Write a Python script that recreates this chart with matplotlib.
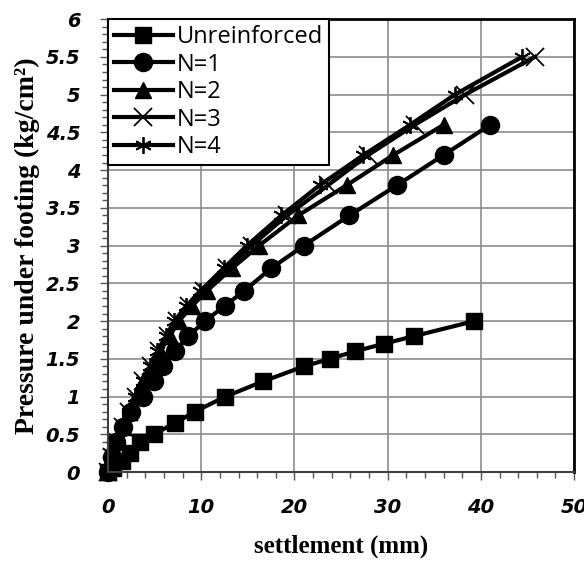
import matplotlib
matplotlib.use("Agg")
import matplotlib.pyplot as plt
from matplotlib.ticker import MultipleLocator

# settlement (mm) / pressure (kg/cm2)
x_unr = [0, 0.5, 1.5, 2.4, 3.4, 4.9, 7.2, 9.3, 12.6, 16.6, 21.0, 23.8, 26.5, 29.6, 32.8, 39.3]
y_unr = [0, 0.05, 0.15, 0.25, 0.4, 0.5, 0.65, 0.8, 1.0, 1.2, 1.4, 1.5, 1.6, 1.7, 1.8, 2.0]

x_n1 = [0, 0.4, 0.9, 1.6, 2.5, 3.8, 4.9, 5.9, 7.2, 8.6, 10.4, 12.5, 14.6, 17.5, 21.0, 25.9, 31.0, 36.0, 41.0]
y_n1 = [0, 0.2, 0.4, 0.6, 0.8, 1.0, 1.2, 1.4, 1.6, 1.8, 2.0, 2.2, 2.4, 2.7, 3.0, 3.4, 3.8, 4.2, 4.6]

x_n2 = [0, 0.4, 1.0, 1.6, 2.3, 3.0, 3.8, 4.7, 5.6, 6.6, 7.6, 9.0, 10.6, 13.3, 16.2, 20.4, 25.6, 30.6, 36.0]
y_n2 = [0, 0.2, 0.4, 0.6, 0.8, 1.0, 1.2, 1.4, 1.6, 1.8, 2.0, 2.2, 2.4, 2.7, 3.0, 3.4, 3.8, 4.2, 4.6]

x_n3 = [0, 0.4, 1.0, 1.6, 2.3, 3.0, 3.8, 4.6, 5.5, 6.4, 7.4, 8.7, 10.3, 12.8, 15.4, 19.2, 23.6, 27.9, 32.9, 38.3, 45.8]
y_n3 = [0, 0.2, 0.4, 0.6, 0.8, 1.0, 1.2, 1.4, 1.6, 1.8, 2.0, 2.2, 2.4, 2.7, 3.0, 3.4, 3.8, 4.2, 4.6, 5.0, 5.5]

x_n4 = [0, 0.4, 0.9, 1.5, 2.2, 2.9, 3.7, 4.5, 5.3, 6.2, 7.1, 8.4, 9.9, 12.4, 14.9, 18.6, 22.7, 27.4, 32.4, 37.2, 44.4]
y_n4 = [0, 0.2, 0.4, 0.6, 0.8, 1.0, 1.2, 1.4, 1.6, 1.8, 2.0, 2.2, 2.4, 2.7, 3.0, 3.4, 3.8, 4.2, 4.6, 5.0, 5.5]

x_ticks = [0, 10, 20, 30, 40, 50]
y_ticks = [0, 0.5, 1, 1.5, 2, 2.5, 3, 3.5, 4, 4.5, 5, 5.5, 6]
y_tick_labels = ['0', '0.5', '1', '1.5', '2', '2.5', '3', '3.5', '4', '4.5', '5', '5.5', '6']

fig = plt.figure(figsize=(5.84, 5.64), dpi=100)
ax = fig.add_axes([0.185, 0.163, 0.798, 0.803])

lw = 3.0
# excel draws the markers at the origin un-clipped
ax.plot(x_unr, y_unr, color='black', lw=lw, marker='s', ms=11, label='Unreinforced', clip_on=False)
ax.plot(x_n1, y_n1, color='black', lw=lw, marker='o', ms=13, label='N=1', clip_on=False)
ax.plot(x_n2, y_n2, color='black', lw=lw, marker='^', ms=12, label='N=2', clip_on=False)
ax.plot(x_n3, y_n3, color='black', lw=lw, marker='x', ms=13, mew=1.3, label='N=3', clip_on=False)
ax.plot(x_n4, y_n4, color='black', lw=lw, marker=(6, 2, 0), ms=12, mew=1.3, label='N=4', clip_on=False)

tick_font = dict(family='DejaVu Sans', weight='bold', style='oblique', size=14)
ax.set_xticks(x_ticks)
ax.set_xticklabels([str(v) for v in x_ticks], fontdict=tick_font)
ax.set_yticks(y_ticks)
ax.set_yticklabels(y_tick_labels, fontdict=tick_font)
ax.xaxis.set_minor_locator(MultipleLocator(2))
ax.yaxis.set_minor_locator(MultipleLocator(0.1))
ax.set_xlim(0, 50)
ax.set_ylim(0, 6)

ax.grid(True, which='major', color='#8c8c8c', lw=1.2)
ax.set_axisbelow(True)
ax.tick_params(which='major', length=6, width=1, color='#555555')
ax.tick_params(which='minor', length=4, width=1, color='#555555')
ax.tick_params(axis='x', which='major', pad=13)
ax.tick_params(axis='y', which='major', pad=14)
ax.spines['top'].set_linewidth(2)
ax.spines['right'].set_linewidth(2)
ax.spines['left'].set_linewidth(1.5)
ax.spines['bottom'].set_linewidth(1.5)
ax.spines['left'].set_color('#404040')
ax.spines['bottom'].set_color('#404040')

ax.set_xlabel('settlement (mm)', fontfamily='Liberation Serif', fontweight='bold', fontsize=18, labelpad=12)
ax.set_ylabel('Pressure under footing (kg/cm²)', fontfamily='Liberation Serif', fontweight='bold', fontsize=20, labelpad=4)

leg = ax.legend(loc='upper left', borderaxespad=0, fancybox=False, framealpha=1, edgecolor='black',
                prop={'family': 'Open Sans', 'size': 17}, handlelength=2.5, handletextpad=0.15,
                labelspacing=0.15, borderpad=0.25)
leg.get_frame().set_linewidth(1.5)
leg.set_zorder(5)

fig.savefig('out.png', dpi=100)
